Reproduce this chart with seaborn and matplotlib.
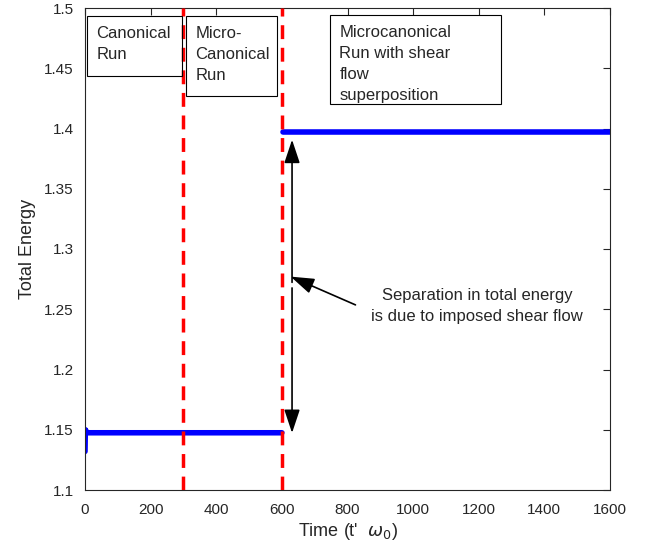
import matplotlib
matplotlib.use("Agg")
import matplotlib.pyplot as plt
import seaborn as sns
import pandas as pd

# Data
t_low = [0, 1, 2, 3, 5, 8, 600]
e_low = [1.132, 1.150, 1.147, 1.149, 1.148, 1.1475, 1.1475]
t_high = [603, 1600]
e_high = [1.397, 1.397]
vlines_x = [300, 600]
xticks = [0, 200, 400, 600, 800, 1000, 1200, 1400, 1600]
yticks = [1.1, 1.15, 1.2, 1.25, 1.3, 1.35, 1.4, 1.45, 1.5]

sns.set_theme(style="white")
plt.rcParams['font.family'] = ['Liberation Sans', 'DejaVu Sans']

fig = plt.figure(figsize=(6.53, 5.52), dpi=100)
ax = fig.add_axes([85/653, 1-490/552, (610-85)/653, (490-8)/552])

df_low = pd.DataFrame({"t": t_low, "E": e_low})
df_high = pd.DataFrame({"t": t_high, "E": e_high})
sns.lineplot(data=df_low, x="t", y="E", ax=ax, color="#0000ff", linewidth=4, estimator=None, sort=False)
sns.lineplot(data=df_high, x="t", y="E", ax=ax, color="#0000ff", linewidth=4, estimator=None, sort=False)

for xv in vlines_x:
    ax.axvline(xv, color="#ff0000", linestyle=(0, (4, 2.5)), linewidth=2.5, zorder=3)

ax.set_xlim(0, 1600)
ax.set_ylim(1.1, 1.5)
ax.set_xticks(xticks)
ax.set_yticks(yticks)
ax.set_xticklabels([str(v) for v in xticks])
ax.set_yticklabels([f"{v:g}" for v in yticks])
ax.tick_params(direction="in", length=5, width=0.8, top=True, right=True,
               labelsize=11, colors="#262626")
ax.tick_params(axis="x", pad=9)
ax.tick_params(axis="y", pad=8)
for s in ax.spines.values():
    s.set_color("#262626")
    s.set_linewidth(0.8)

ax.set_xlabel("Time (t'  $\\omega_0$)", fontsize=13, color="#262626", labelpad=3)
ax.set_ylabel("Total Energy", fontsize=13, color="#262626", labelpad=6)

def box(x0, x1, y0, y1, text):
    ax.add_patch(plt.Rectangle((x0, y0), x1 - x0, y1 - y0, fill=False,
                               edgecolor="black", linewidth=0.8, zorder=4))
    ax.text(x0 + 28, y1 - 0.0085, text, ha="left", va="top", fontsize=12,
            linespacing=1.48, zorder=5)

box(6, 296, 1.4436, 1.4935, "Canonical\nRun")
box(308, 585, 1.427, 1.4935, "Micro-\nCanonical\nRun")
box(747, 1268, 1.4203, 1.4942, "Microcanonical\nRun with shear\nflow\nsuperposition")

ax.annotate("", xy=(631, 1.393), xytext=(631, 1.270),
            arrowprops=dict(arrowstyle="-|>,head_length=1.2,head_width=0.4", color="black", lw=1.2))
ax.annotate("", xy=(631, 1.145), xytext=(631, 1.270),
            arrowprops=dict(arrowstyle="-|>,head_length=1.2,head_width=0.4", color="black", lw=1.2))
ax.annotate("", xy=(619, 1.278), xytext=(832, 1.2527),
            arrowprops=dict(arrowstyle="-|>,head_length=1.2,head_width=0.4", color="black", lw=1.2))
ax.text(1195, 1.2527, "Separation in total energy\nis due to imposed shear flow",
        ha="center", va="center", fontsize=12, linespacing=1.45)

fig.savefig("out.png", dpi=100)
